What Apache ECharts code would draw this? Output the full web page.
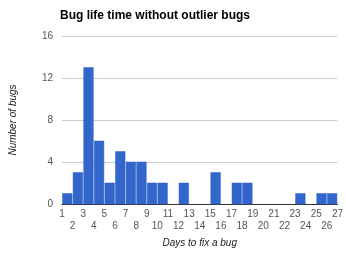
<!DOCTYPE html>
<html>
<head>
<meta charset="utf-8">
<script src="https://cdn.jsdelivr.net/npm/echarts@6/dist/echarts.min.js"></script>
<style>
  html, body { margin: 0; padding: 0; background: #fff; }
  #chart { width: 346px; height: 253px; }
</style>
</head>
<body>
<div id="chart"></div>
<script>
// histogram bins: each bin covers [start, start + 1) days
const binStart = [1, 2, 3, 4, 5, 6, 7, 8, 9, 10, 11, 12, 13, 14, 15, 16, 17, 18, 19, 20, 21, 22, 23, 24, 25, 26]
const bugCounts = [1, 3, 13, 6, 2, 5, 4, 4, 2, 2, 0, 2, 0, 0, 3, 0, 2, 2, 0, 0, 0, 0, 1, 0, 1, 1]

const titleText = 'Bug life time without outlier bugs'
const xName = 'Days to fix a bug'
const yName = 'Number of bugs'

const font = 'Liberation Sans, Arial, sans-serif'

const data = binStart.map((s, i) => [s, s + 1, bugCounts[i]])

// odd day labels on the first row, even ones on a second row (a hidden twin axis)
const xBase = {
    type: 'value',
    min: 1,
    max: 27,
    interval: 1,
    position: 'bottom',
    axisTick: { show: false },
    splitLine: { show: false }
}
const labelBase = { color: '#555', fontSize: 10, showMinLabel: true, showMaxLabel: true }

const myChart = echarts.init(document.getElementById('chart'))
myChart.setOption({
    animation: false,
    textStyle: { fontFamily: font },
    title: {
        text: titleText,
        left: 55,
        top: 5,
        textStyle: { fontSize: 12, fontWeight: 'bold', color: '#000', fontFamily: font }
    },
    grid: { left: 61, right: 5, top: 36, bottom: 47 },
    xAxis: [
        Object.assign({}, xBase, {
            name: xName,
            nameLocation: 'middle',
            nameGap: 34,
            nameTextStyle: { fontStyle: 'italic', fontSize: 10, color: '#222' },
            axisLine: { show: true, lineStyle: { color: '#333' } },
            axisLabel: Object.assign({}, labelBase, {
                margin: 5,
                formatter: v => (v % 2 === 1 ? String(v) : '')
            })
        }),
        Object.assign({}, xBase, {
            axisLine: { show: false },
            axisLabel: Object.assign({}, labelBase, {
                margin: 17,
                formatter: v => (v % 2 === 0 ? String(v) : '')
            })
        })
    ],
    yAxis: {
        type: 'value',
        min: 0,
        max: 16,
        interval: 4,
        name: yName,
        nameLocation: 'middle',
        nameGap: 44,
        nameTextStyle: { fontStyle: 'italic', fontSize: 10, color: '#222' },
        axisLine: { show: false },
        axisTick: { show: false },
        axisLabel: { color: '#555', fontSize: 10, margin: 9 },
        splitLine: { lineStyle: { color: '#ccc' } }
    },
    series: [{
        type: 'custom',
        xAxisIndex: 0,
        encode: { x: [0, 1], y: 2 },
        data: data,
        renderItem: (params, api) => {
            const v = api.value(2)
            if (!v) return null
            const p0 = api.coord([api.value(0), 0])
            const p1 = api.coord([api.value(1), v])
            return {
                type: 'rect',
                shape: { x: p0[0] + 0.5, y: p1[1], width: p1[0] - p0[0] - 1, height: p0[1] - p1[1] },
                style: { fill: '#3366cc', stroke: '#2f5fc4', lineWidth: 0.5 }
            }
        }
    }]
})
</script>
</body>
</html>
